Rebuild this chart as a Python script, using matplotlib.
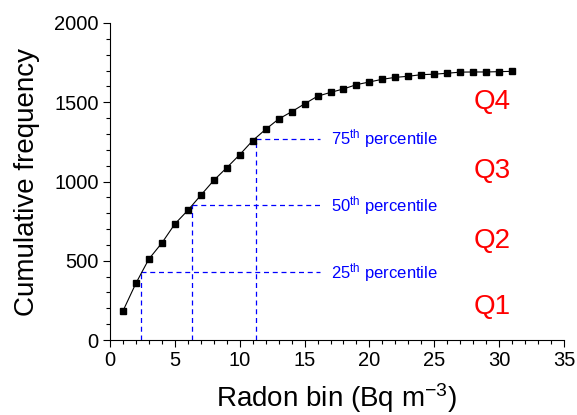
import matplotlib
matplotlib.use("Agg")
import matplotlib.pyplot as plt
from matplotlib.ticker import MultipleLocator

plt.rcParams['font.family'] = ['Liberation Sans', 'DejaVu Sans']
plt.rcParams['mathtext.fontset'] = 'custom'
plt.rcParams['mathtext.rm'] = 'Liberation Sans'
plt.rcParams['mathtext.it'] = 'Liberation Sans'
plt.rcParams['mathtext.bf'] = 'Liberation Sans'

radon_bin = list(range(1, 32))
cum_freq = [183, 358, 511, 612, 732, 818, 913, 1007, 1087, 1169, 1258, 1329,
            1394, 1440, 1490, 1538, 1562, 1584, 1611, 1628, 1645, 1657, 1664,
            1674, 1677, 1683, 1690, 1691, 1691, 1693, 1695]

pct_labels = ['25', '50', '75']
pct_x = [2.43, 6.36, 11.25]
pct_y = [428, 850, 1270]
line_end_x = 16.2

q_labels = ['Q1', 'Q2', 'Q3', 'Q4']
q_y = [208, 626, 1068, 1503]

fig = plt.figure(figsize=(5.77, 4.15), dpi=100)
ax = fig.add_axes([0.1906, 0.1807, 0.9775 - 0.1906, 0.9446 - 0.1807])

ax.plot(radon_bin, cum_freq, color='black', lw=0.8, marker='s', ms=5,
        mfc='black', mec='black', zorder=3)

blue = '#0000ff'
for lab, px, py in zip(pct_labels, pct_x, pct_y):
    ax.plot([px, px], [0, py], ls=(0, (4, 3)), color=blue, lw=0.9, zorder=2)
    ax.plot([px, line_end_x], [py, py], ls=(0, (4, 3)), color=blue, lw=0.9, zorder=2)
    ax.text(17.0, py, lab + r'$^{\mathrm{th}}$ percentile', color=blue,
            fontsize=12, va='center', ha='left')

for lab, qy in zip(q_labels, q_y):
    ax.text(28.0, qy, lab, color='red', fontsize=20, va='center', ha='left')

ax.set_xlim(0, 35)
ax.set_ylim(0, 2000)
ax.xaxis.set_major_locator(MultipleLocator(5))
ax.xaxis.set_minor_locator(MultipleLocator(1))
ax.yaxis.set_major_locator(MultipleLocator(500))
ax.yaxis.set_minor_locator(MultipleLocator(100))
ax.tick_params(which='major', direction='out', length=5, width=0.8, labelsize=14.5, pad=3)
ax.tick_params(which='minor', direction='out', length=3, width=0.8)
ax.spines['top'].set_visible(False)
ax.spines['right'].set_visible(False)
for s in ['left', 'bottom']:
    ax.spines[s].set_linewidth(0.8)

ax.set_xlabel(r'Radon bin (Bq m$^{-3}$)', fontsize=20, labelpad=8)
ax.set_ylabel('Cumulative frequency', fontsize=20, labelpad=10)

fig.savefig('out.png', dpi=100)
